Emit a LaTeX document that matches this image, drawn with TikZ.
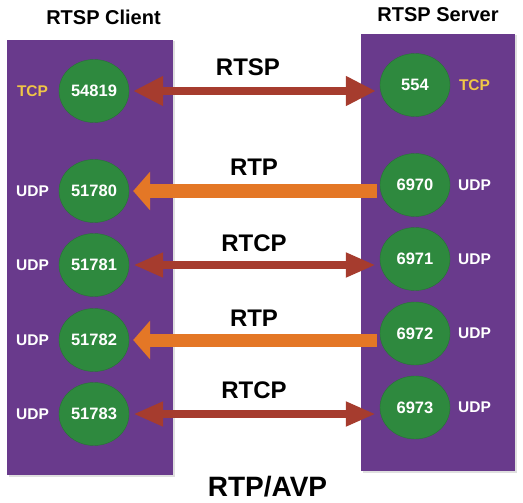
\documentclass[tikz,border=0pt]{standalone}
\usepackage{fontspec}
\setmainfont{Liberation Sans}
\usetikzlibrary{arrows.meta,shapes.geometric,shadows}
\definecolor{hostpurple}{RGB}{105,58,140}
\definecolor{portgreen}{RGB}{46,137,62}
\definecolor{sessionred}{RGB}{166,60,46}
\definecolor{mediaorange}{RGB}{228,119,38}
\definecolor{tcpyellow}{RGB}{240,198,70}

\begin{document}
\begin{tikzpicture}[x=1pt, y=-1pt,
    host/.style ={rectangle, fill=hostpurple, inner sep=0pt,
      drop shadow={shadow xshift=1.5pt, shadow yshift=-1.5pt, opacity=0.25}},
    port/.style ={ellipse, fill=portgreen, draw=portgreen!85!black, thin,
      minimum width=70pt, minimum height=63pt, inner sep=0pt,
      text=white, font=\bfseries\fontsize{16.5}{18}\selectfont},
    title/.style ={font=\bfseries\fontsize{20}{22}\selectfont},
    proto/.style ={font=\bfseries\fontsize{24}{26}\selectfont},
    udp/.style ={text=white, font=\bfseries\fontsize{15.5}{17}\selectfont},
    tcp/.style ={text=tcpyellow, font=\bfseries\fontsize{15.5}{17}\selectfont},
    sessionarrow/.style ={sessionred, line width=8pt,
      {Triangle[length=30pt,width=28pt]}-{Triangle[length=30pt,width=28pt]},
      shorten <=4pt, shorten >=4pt},
    controlarrow/.style ={sessionred, line width=8pt,
      {Triangle[length=30pt,width=23pt]}-{Triangle[length=30pt,width=23pt]},
      shorten <=4pt, shorten >=4pt},
    mediaarrow/.style ={mediaorange, line width=13pt,
      -{Triangle[length=17pt,width=38pt]}, shorten <=3pt, shorten >=4pt}]
   \useasboundingbox (0,0) rectangle (523,503);

   \node[host, minimum width=166pt, minimum height=435pt] (client) at (90,257.5) {};
   \node[host, minimum width=154pt, minimum height=437pt] (server) at (438,252.5) {};
   \node[title] (clienttitle) at (103.5,17) {RTSP Client};
   \node[title] (servertitle) at (438,15) {RTSP Server};

   \node[port] (C0) at (94,91)  {54819};
   \node[port] (C1) at (94,191) {51780};
   \node[port] (C2) at (94,265) {51781};
   \node[port] (C3) at (94,340) {51782};
   \node[port] (C4) at (94,414) {51783};

   \node[port] (S0) at (415,85)    {554};
   \node[port] (S1) at (415,185)   {6970};
   \node[port] (S2) at (415,259)   {6971};
   \node[port] (S3) at (415,333.5) {6972};
   \node[port] (S4) at (415,407.5) {6973};

   \node[tcp] (CT0) at (32.5,91)  {TCP};
   \node[udp] (CU1) at (32.5,191) {UDP};
   \node[udp] (CU2) at (32.5,265) {UDP};
   \node[udp] (CU3) at (32.5,340) {UDP};
   \node[udp] (CU4) at (32.5,414) {UDP};

   \node[tcp] (ST0) at (474.5,85)    {TCP};
   \node[udp] (SU1) at (474.5,185)   {UDP};
   \node[udp] (SU2) at (474.5,259)   {UDP};
   \node[udp] (SU3) at (474.5,333.5) {UDP};
   \node[udp] (SU4) at (474.5,407.5) {UDP};

   \draw[sessionarrow] (C0.east) -- (C0.east -| S0.west);
   \draw[mediaarrow] (C1.east -| S1.west) -- (C1.east);
   \draw[controlarrow] (C2.east) -- (C2.east -| S2.west);
   \draw[mediaarrow] (C3.east -| S3.west) -- (C3.east);
   \draw[controlarrow] (C4.east) -- (C4.east -| S4.west);

   \node[proto] (L0) at (248,67)  {RTSP};
   \node[proto] (L1) at (254,167) {RTP};
   \node[proto] (L2) at (254,243) {RTCP};
   \node[proto] (L3) at (254,318) {RTP};
   \node[proto] (L4) at (254,390) {RTCP};
   \node[font=\bfseries\fontsize{28}{30}\selectfont] (profile) at (267.5,486.5) {RTP/AVP};

 \end{tikzpicture}
\end{document}
